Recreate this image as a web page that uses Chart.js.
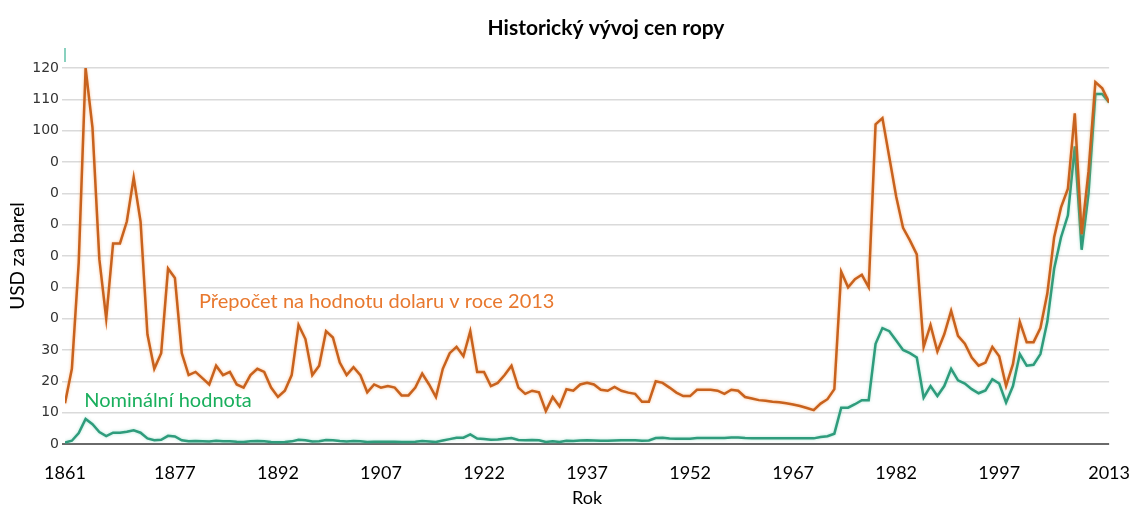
<!DOCTYPE html>
<html>
<head>
<meta charset="utf-8">
<title>Historický vývoj cen ropy</title>
<script src="https://cdn.jsdelivr.net/npm/chart.js@4.4.1/dist/chart.umd.min.js"></script>
<style>
    html, body { margin: 0; padding: 0; background: #fff; }
    #wrap { width: 1140px; height: 509px; }
</style>
</head>
<body>
<div id="wrap"><canvas id="oilChart" width="1140" height="509"></canvas></div>
<script>
// Years on the x axis
var firstYear = 1861;
var lastYear = 2013;
var tickYears = [1861, 1877, 1892, 1907, 1922, 1937, 1952, 1967, 1982, 1997, 2013];

// y tick labels as printed in the original (10 per step)
var yTickLabels = ['0', '10', '20', '30', '0', '0', '0', '0', '0', '0', '100', '110', '120'];

// Přepočet na hodnotu dolaru v roce 2013 (USD/barel)
var realPrice = [
    13, 24, 58, 120, 101, 59, 40, 64, 64, 71,              // 1861-1870
    85, 71, 35, 24, 29, 56, 53, 29, 22, 23,                // 1871-1880
    21, 19, 25, 22, 23, 19, 18, 22, 24, 23,                // 1881-1890
    18, 15, 17, 22, 38, 33.5, 22, 25, 36, 34,              // 1891-1900
    26, 22, 24.5, 22, 16.5, 19, 18, 18.5, 18, 15.5,        // 1901-1910
    15.5, 18, 22.5, 19, 15, 24, 29, 31, 28, 36,            // 1911-1920
    23, 23, 18.5, 19.5, 22, 25, 18, 16, 17, 16.5,          // 1921-1930
    10.5, 15, 12, 17.5, 17, 19, 19.5, 19, 17.3, 17,        // 1931-1940
    18.2, 17, 16.4, 16, 13.5, 13.5, 20, 19.5, 18, 16.4,    // 1941-1950
    15.3, 15.3, 17.3, 17.3, 17.3, 17, 16, 17.3, 17, 15,    // 1951-1960
    14.5, 14, 13.8, 13.5, 13.3, 13, 12.6, 12.1, 11.5, 10.8, // 1961-1970
    12.9, 14.3, 17.5, 55, 50, 52.6, 54, 50, 102, 104,      // 1971-1980
    91.5, 79, 69, 65, 60.5, 31, 38, 29.5, 35, 42.5,        // 1981-1990
    34.5, 32, 27.6, 25, 26, 31, 28, 18.5, 25.5, 39,        // 1991-2000
    32.5, 32.5, 37, 48, 66, 75.5, 81.5, 105.5, 67, 87,     // 2001-2010
    115.5, 113.5, 109                                      // 2011-2013
];

// Nominální hodnota (USD/barel)
var nominalPrice = [
    0.5, 1.05, 3.5, 8, 6.3, 3.8, 2.5, 3.6, 3.6, 3.9,
    4.4, 3.6, 1.8, 1.2, 1.35, 2.6, 2.4, 1.2, 0.86, 0.95,
    0.86, 0.78, 1.0, 0.84, 0.88, 0.71, 0.67, 0.88, 0.94, 0.87,
    0.67, 0.56, 0.64, 0.84, 1.36, 1.18, 0.79, 0.91, 1.29, 1.19,
    0.96, 0.8, 0.94, 0.86, 0.62, 0.73, 0.72, 0.72, 0.7, 0.61,
    0.61, 0.74, 0.95, 0.81, 0.64, 1.1, 1.56, 1.98, 2.01, 3.07,
    1.73, 1.61, 1.34, 1.43, 1.68, 1.88, 1.3, 1.17, 1.27, 1.19,
    0.65, 0.87, 0.67, 1.0, 0.97, 1.09, 1.18, 1.13, 1.02, 1.02,
    1.14, 1.19, 1.2, 1.21, 1.05, 1.12, 1.9, 1.99, 1.78, 1.71,
    1.71, 1.71, 1.93, 1.93, 1.93, 1.93, 1.9, 2.08, 2.08, 1.9,
    1.8, 1.8, 1.8, 1.8, 1.8, 1.8, 1.8, 1.8, 1.8, 1.8,
    2.24, 2.48, 3.29, 11.6, 11.6, 12.7, 14, 14, 32, 37,
    36, 33, 30, 29, 27.6, 14.8, 18.5, 15.3, 18.5, 24,
    20.3, 19.3, 17.5, 16.2, 17.1, 20.7, 19.3, 13.2, 18.5, 28.7,
    25, 25.3, 28.7, 39, 56, 66, 73, 95, 62, 80,
    111.7, 111.7, 109
];

var chartTitle = 'Historický vývoj cen ropy';
var realLabel = 'Přepočet na hodnotu dolaru v roce 2013';
var nominalLabel = 'Nominální hodnota';

var years = [];
for (var yr = firstYear; yr <= lastYear; yr++) {
    years.push(yr);
}

function toPoints(values) {
    return years.map(function (y, i) {
        return { x: y, y: values[i] };
    });
}

// ------------------------------------------------------- //
// soft glow under the lines + title and in-chart series labels
// ------------------------------------------------------ //
var glowPlugin = {
    id: 'glow',
    beforeDatasetDraw: function (chart, args) {
        var ctx = chart.ctx;
        ctx.save();
        ctx.shadowColor = args.index === 0 ? 'rgba(245,150,70,0.6)' : 'rgba(90,200,170,0.5)';
        ctx.shadowBlur = 3;
    },
    afterDatasetDraw: function (chart) {
        chart.ctx.restore();
    }
};

var seriesLabels = {
    id: 'seriesLabels',
    afterDraw: function (chart) {
        var ctx = chart.ctx;
        var xs = chart.scales.x;
        var ys = chart.scales.y;
        ctx.save();
        ctx.textBaseline = 'middle';

        // title (off-centre in the original)
        ctx.font = 'bold 21px Lato';
        ctx.textAlign = 'center';
        ctx.fillStyle = '#000';
        ctx.fillText(chartTitle, 606, 28);

        ctx.font = '20px Lato';
        ctx.textAlign = 'left';
        ctx.fillStyle = '#e8782e';
        ctx.fillText(realLabel, xs.getPixelForValue(1880.5), ys.getPixelForValue(45.5));
        ctx.fillStyle = '#1aaf5d';
        ctx.fillText(nominalLabel, xs.getPixelForValue(1863.8), ys.getPixelForValue(14));

        // small leftover mark at the top left of the original
        ctx.strokeStyle = '#62c2aa';
        ctx.lineWidth = 1.5;
        ctx.beginPath();
        ctx.moveTo(xs.left, 48);
        ctx.lineTo(xs.left, 62);
        ctx.stroke();
        ctx.restore();
    }
};

var oilChart = new Chart(document.getElementById('oilChart'), {
    type: 'line',
    data: {
        datasets: [
            {
                label: realLabel,
                data: toPoints(realPrice),
                borderColor: '#c8621e',
                borderWidth: 2.5,
                pointRadius: 0,
                tension: 0,
                fill: false
            },
            {
                label: nominalLabel,
                data: toPoints(nominalPrice),
                borderColor: '#2f9c7c',
                borderWidth: 2.5,
                pointRadius: 0,
                tension: 0,
                fill: false
            }
        ]
    },
    options: {
        responsive: false,
        animation: false,
        devicePixelRatio: 1,
        layout: {
            padding: { left: 0, right: 27, top: 68, bottom: 0 }
        },
        plugins: {
            legend: { display: false },
            tooltip: { enabled: false },
            title: { display: false }
        },
        scales: {
            x: {
                type: 'linear',
                min: firstYear,
                max: lastYear,
                afterBuildTicks: function (scale) {
                    scale.ticks = tickYears.map(function (v) { return { value: v }; });
                },
                afterFit: function (scale) {
                    scale.height = 65;
                },
                grid: { display: false },
                border: { display: false },
                ticks: {
                    autoSkip: false,
                    maxRotation: 0,
                    padding: 10,
                    color: '#000',
                    font: { family: 'Lato', size: 18 },
                    callback: function (v) { return String(v); }
                },
                title: {
                    display: true,
                    text: 'Rok',
                    color: '#000',
                    font: { family: 'Lato', size: 18 },
                    padding: { top: 0, bottom: 0 }
                }
            },
            y: {
                min: 0,
                max: 120,
                afterFit: function (scale) {
                    scale.width = 65;
                },
                border: { display: false },
                grid: {
                    color: function (ctx) { return ctx.tick && ctx.tick.value === 0 ? '#6a6a6a' : '#dadada'; },
                    lineWidth: function (ctx) { return ctx.tick && ctx.tick.value === 0 ? 2 : 1.5; },
                    drawTicks: true,
                    tickLength: 3
                },
                ticks: {
                    stepSize: 10,
                    padding: 3,
                    color: '#333',
                    font: { family: 'DejaVu Sans', size: 14 },
                    callback: function (v) { return yTickLabels[Math.round(v / 10)]; }
                },
                title: {
                    display: true,
                    text: 'USD za barel',
                    color: '#000',
                    font: { family: 'Lato', size: 19 },
                    padding: { top: 6, bottom: 0 }
                }
            }
        }
    },
    plugins: [glowPlugin, seriesLabels]
});
</script>
</body>
</html>
